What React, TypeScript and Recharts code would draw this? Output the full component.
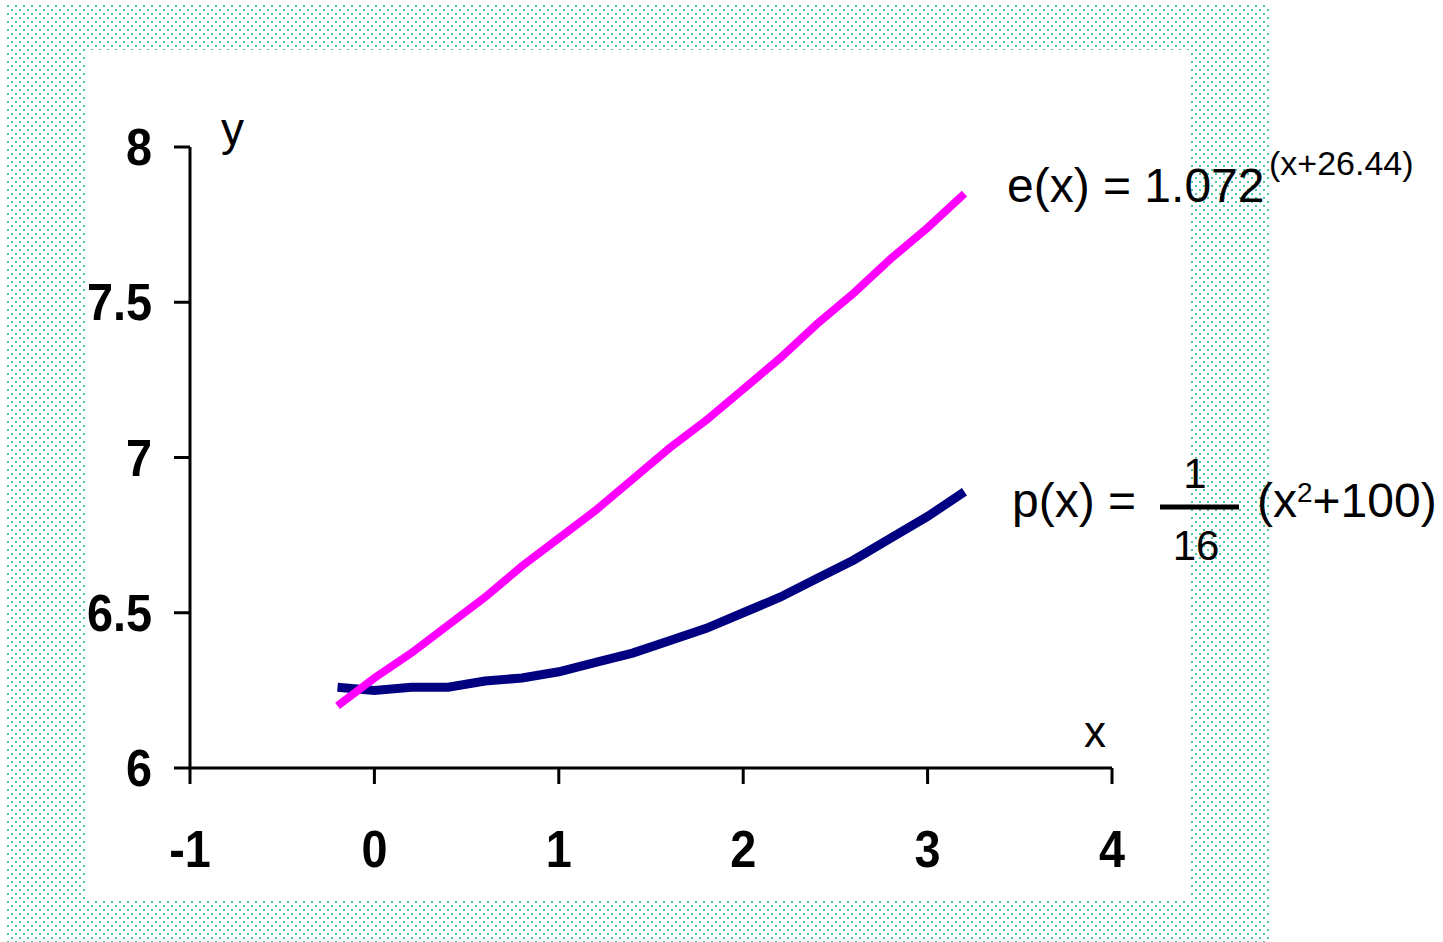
import React from 'react';
import { LineChart, Line, XAxis, YAxis } from 'recharts';

// x positions of the plotted points
const xValues = [-0.2, 0, 0.2, 0.4, 0.6, 0.8, 1, 1.2, 1.4, 1.6, 1.8, 2, 2.2, 2.4, 2.6, 2.8, 3, 3.2];
// p(x) = (x^2 + 100) / 16
const pValues = [6.26, 6.25, 6.26, 6.26, 6.28, 6.29, 6.31, 6.34, 6.37, 6.41, 6.45, 6.5, 6.55, 6.61, 6.67, 6.74, 6.81, 6.89];
// e(x) = 1.072^(x + 26.44)
const eValues = [6.2, 6.29, 6.37, 6.46, 6.55, 6.65, 6.74, 6.83, 6.93, 7.03, 7.12, 7.22, 7.32, 7.43, 7.53, 7.64, 7.74, 7.85];

const xTicks = [-1, 0, 1, 2, 3, 4];
const yTicks = [6, 6.5, 7, 7.5, 8];

const data = xValues.map((x, i) => ({ x, p: pValues[i], e: eValues[i] }));

const FONT = 'Liberation Sans, Arial, sans-serif';

// ── Axis ticks ────────────────────────────────────────────────

function YTick({ x, y, payload }: any) {
  return (
    <text
      transform={`translate(${x},${y + 18}) scale(0.9,1)`}
      textAnchor="end"
      fontFamily={FONT}
      fontWeight="bold"
      fontSize={52}
      fill="#000"
    >
      {payload.value}
    </text>
  );
}

function XTick({ x, y, payload }: any) {
  return (
    <text
      transform={`translate(${x},${y + 75}) scale(0.9,1)`}
      textAnchor="middle"
      fontFamily={FONT}
      fontWeight="bold"
      fontSize={52}
      fill="#000"
    >
      {payload.value}
    </text>
  );
}

// ── Dotted frame behind the chart ─────────────────────────────

function Backdrop() {
  return (
    <svg width={1443} height={942} style={{ position: 'absolute', left: 0, top: 0 }}>
      <defs>
        <pattern id="dots" x={7} y={5} width={8} height={8} patternUnits="userSpaceOnUse">
          <rect x={0} y={0} width={2} height={2} fill="#4cc7a5" />
          <rect x={4} y={4} width={2} height={2} fill="#4cc7a5" />
        </pattern>
      </defs>
      <rect x={7} y={5} width={1263} height={937} fill="url(#dots)" />
      <rect x={85} y={50} width={1105} height={850} fill="#ffffff" />
    </svg>
  );
}

// ── Formula labels ────────────────────────────────────────────

function Labels() {
  return (
    <svg width={1443} height={942} style={{ position: 'absolute', left: 0, top: 0 }} fontFamily={FONT} fill="#000">
      <text x={221} y={145} fontSize={46}>y</text>
      <text x={1084} y={747} fontSize={44}>x</text>

      <text x={1007} y={202} fontSize={48}>e(x) = 1.072</text>
      <text x={1269} y={175} fontSize={34}>(x+26.44)</text>

      <text x={1012} y={517} fontSize={48}>p(x) =</text>
      <text x={1195} y={488} fontSize={42} textAnchor="middle">1</text>
      <line x1={1160} x2={1239} y1={507} y2={507} stroke="#000" strokeWidth={5} />
      <text x={1196} y={560} fontSize={42} textAnchor="middle">16</text>
      <text x={1257} y={517} fontSize={48}>
        (x<tspan fontSize={28} dy={-15}>2</tspan>
        <tspan fontSize={48} dy={15}>+100)</tspan>
      </text>
    </svg>
  );
}

export default function App() {
  return (
    <div style={{ position: 'absolute', left: 0, top: 0, width: 1443, height: 942, background: '#fff' }}>
      <Backdrop />
      <div style={{ position: 'absolute', left: 0, top: 0 }}>
        <LineChart width={1443} height={942} data={data} margin={{ top: 147, left: 130, right: 331, bottom: 144 }}>
          <XAxis
            type="number"
            dataKey="x"
            domain={[-1, 4]}
            ticks={xTicks}
            interval={0}
            height={30}
            stroke="#000"
            axisLine={{ stroke: '#000', strokeWidth: 3 }}
            tickLine={{ stroke: '#000', strokeWidth: 3 }}
            tickSize={16}
            tickMargin={8}
            tick={<XTick />}
          />
          <YAxis
            type="number"
            domain={[6, 8]}
            ticks={yTicks}
            interval={0}
            width={60}
            stroke="#000"
            axisLine={{ stroke: '#000', strokeWidth: 3 }}
            tickLine={{ stroke: '#000', strokeWidth: 3 }}
            tickSize={16}
            tickMargin={22}
            tick={<YTick />}
          />
          <Line
            type="linear"
            dataKey="p"
            stroke="#000080"
            strokeWidth={9}
            dot={false}
            activeDot={false}
            isAnimationActive={false}
          />
          <Line
            type="linear"
            dataKey="e"
            stroke="#ff00ff"
            strokeWidth={8}
            dot={false}
            activeDot={false}
            isAnimationActive={false}
          />
        </LineChart>
      </div>
      <Labels />
    </div>
  );
}
